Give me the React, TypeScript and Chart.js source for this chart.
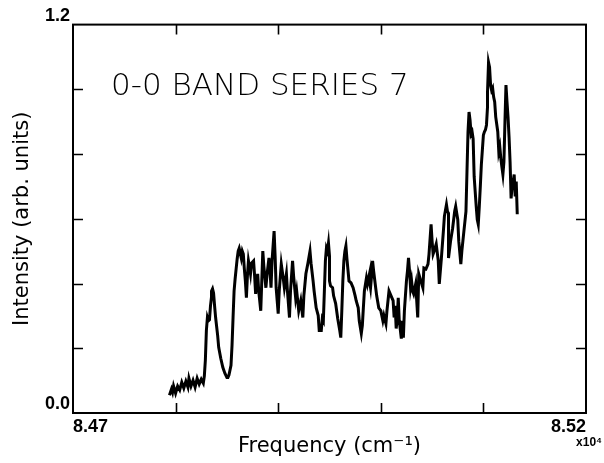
import React, { useEffect, useRef } from "react";
import { Chart, registerables } from "chart.js";

Chart.register(...registerables);

// Frequency in cm^-1 (axis shown in units of 10^4 cm^-1)
const freq = [
  84794, 84796, 84797, 84798, 84800, 84802, 84804, 84806, 84808, 84810,
  84812, 84813, 84815, 84817, 84819, 84821, 84823, 84825, 84827, 84828,
  84829, 84830, 84831, 84832, 84833, 84834, 84835, 84835, 84836, 84837,
  84838, 84839, 84841, 84842, 84844, 84846, 84848, 84850, 84851, 84852,
  84854, 84855, 84856, 84857, 84858, 84859, 84860, 84861, 84862, 84863,
  84864, 84865, 84866, 84867, 84868, 84869, 84870, 84871, 84872, 84873,
  84874, 84876, 84877, 84878, 84879, 84880, 84881, 84883, 84884, 84885,
  84886, 84888, 84889, 84891, 84892, 84893, 84894, 84895, 84896, 84897,
  84898, 84899, 84900, 84901, 84903, 84905, 84906, 84907, 84908, 84909,
  84911, 84912, 84914, 84915, 84917, 84918, 84920, 84922, 84924, 84925,
  84927, 84929, 84931, 84932, 84934, 84935, 84937, 84939, 84940, 84942,
  84943, 84944, 84945, 84946, 84947, 84948, 84949, 84950, 84950, 84951,
  84953, 84954, 84956, 84958, 84960, 84961, 84962, 84963, 84964, 84965,
  84966, 84967, 84969, 84971, 84973, 84975, 84976, 84978, 84979, 84981,
  84982, 84983, 84984, 84986, 84987, 84989, 84989, 84990, 84991, 84992,
  84993, 84995, 84996, 84998, 85000, 85002, 85003, 85005, 85006, 85008,
  85010, 85012, 85013, 85014, 85015, 85016, 85017, 85018, 85020, 85021,
  85022, 85023, 85025, 85026, 85027, 85028, 85029, 85030, 85031, 85032,
  85034, 85035, 85036, 85037, 85039, 85041, 85042, 85044, 85046, 85047,
  85049, 85050, 85051, 85052, 85054, 85056, 85057, 85059, 85061, 85062,
  85064, 85065, 85066, 85066, 85068, 85070, 85072, 85073, 85074, 85075,
  85076, 85078, 85079, 85081, 85082, 85083, 85084, 85085, 85086, 85087,
  85088, 85089, 85090, 85091, 85092, 85093, 85094, 85095, 85096, 85097,
  85098, 85099, 85100, 85101, 85102, 85103, 85104, 85104, 85105, 85106,
  85107, 85108, 85109, 85110, 85111, 85112, 85114, 85115, 85116, 85117,
  85118, 85119, 85120, 85121, 85122, 85123, 85124, 85125, 85126, 85127,
  85128, 85129, 85130, 85131, 85132, 85133,
];

// Intensity (arb. units)
const intensity = [
  0.055, 0.074, 0.064, 0.083, 0.061, 0.083, 0.071, 0.095, 0.077, 0.098,
  0.080, 0.107, 0.083, 0.101, 0.080, 0.107, 0.089, 0.104, 0.092, 0.114,
  0.163, 0.255, 0.295, 0.285, 0.288, 0.331, 0.359, 0.377, 0.384, 0.371,
  0.331, 0.295, 0.239, 0.203, 0.169, 0.141, 0.123, 0.110, 0.110, 0.117,
  0.147, 0.209, 0.295, 0.377, 0.414, 0.445, 0.476, 0.500, 0.509, 0.494,
  0.479, 0.500, 0.491, 0.445, 0.408, 0.356, 0.424, 0.470, 0.451, 0.430,
  0.463, 0.470, 0.424, 0.368, 0.402, 0.430, 0.377, 0.316, 0.408, 0.500,
  0.454, 0.387, 0.424, 0.479, 0.439, 0.387, 0.470, 0.516, 0.562, 0.485,
  0.387, 0.347, 0.307, 0.377, 0.460, 0.414, 0.387, 0.408, 0.430, 0.377,
  0.295, 0.377, 0.470, 0.424, 0.356, 0.377, 0.316, 0.347, 0.295, 0.362,
  0.430, 0.463, 0.500, 0.463, 0.408, 0.377, 0.325, 0.301, 0.255, 0.255,
  0.292, 0.285, 0.377, 0.470, 0.509, 0.500, 0.525, 0.485, 0.408, 0.393,
  0.387, 0.362, 0.338, 0.292, 0.255, 0.233, 0.316, 0.408, 0.470, 0.500,
  0.516, 0.476, 0.408, 0.402, 0.387, 0.362, 0.347, 0.325, 0.285, 0.246,
  0.270, 0.325, 0.377, 0.417, 0.399, 0.430, 0.408, 0.387, 0.424, 0.470,
  0.439, 0.387, 0.362, 0.325, 0.316, 0.285, 0.301, 0.276, 0.316, 0.377,
  0.362, 0.347, 0.295, 0.331, 0.261, 0.292, 0.356, 0.285, 0.230, 0.285,
  0.233, 0.316, 0.408, 0.439, 0.479, 0.439, 0.387, 0.408, 0.377, 0.368,
  0.399, 0.347, 0.295, 0.430, 0.408, 0.387, 0.448, 0.445, 0.460, 0.491,
  0.583, 0.531, 0.491, 0.500, 0.522, 0.470, 0.399, 0.476, 0.562, 0.608,
  0.644, 0.623, 0.617, 0.479, 0.531, 0.571, 0.623, 0.638, 0.617, 0.598,
  0.531, 0.460, 0.500, 0.562, 0.592, 0.623, 0.746, 0.869, 0.930, 0.905,
  0.862, 0.869, 0.847, 0.730, 0.684, 0.638, 0.598, 0.583, 0.638, 0.700,
  0.767, 0.813, 0.859, 0.869, 0.875, 0.890, 0.945, 0.991, 1.083, 1.068,
  1.013, 0.997, 1.004, 0.976, 0.961, 0.915, 0.869, 0.807, 0.822, 0.786,
  0.761, 0.737, 0.776, 0.899, 1.013, 0.961, 0.915, 0.853, 0.776, 0.663,
  0.700, 0.715, 0.737, 0.669, 0.715, 0.614,
];

const X_MIN = 84700;
const X_MAX = 85200;
const X_STEP = 100;
const Y_MIN = 0;
const Y_MAX = 1.2;
const Y_STEP = 0.2;
const xMinorTicks = [84800, 84900, 85000, 85100];
const yMinorTicks = [0.2, 0.4, 0.6, 0.8, 1.0];
const xLabeledTicks = [84700, 85200];
const yLabeledTicks = [0, 1.2];

const PLOT_TITLE = "0-0 BAND SERIES 7";
const X_TITLE = "Frequency (cm\u207B\u00B9)";
const Y_TITLE = "Intensity (arb. units)";
const X_MULT = "x10\u2074";

const framePlugin = {
  id: "frameAndNotes",
  afterDraw(chart: any) {
    const { ctx, chartArea: a, scales } = chart;
    const xs = scales.x;
    const ys = scales.y;
    ctx.save();
    ctx.strokeStyle = "#000";
    ctx.lineWidth = 2;
    ctx.strokeRect(a.left, a.top, a.right - a.left, a.bottom - a.top);
    const tl = 10;
    ctx.lineWidth = 1.6;
    ctx.beginPath();
    for (const v of xMinorTicks) {
      const px = Math.round(xs.getPixelForValue(v)) + 0.5;
      ctx.moveTo(px, a.bottom);
      ctx.lineTo(px, a.bottom - tl);
      ctx.moveTo(px, a.top);
      ctx.lineTo(px, a.top + tl);
    }
    for (const v of yMinorTicks) {
      const py = Math.round(ys.getPixelForValue(v)) + 0.5;
      ctx.moveTo(a.left, py);
      ctx.lineTo(a.left + tl, py);
      ctx.moveTo(a.right, py);
      ctx.lineTo(a.right - tl, py);
    }
    ctx.stroke();

    ctx.fillStyle = "#000";
    ctx.font = '300 31px "DejaVu Sans"';
    ctx.textAlign = "left";
    ctx.textBaseline = "alphabetic";
    ctx.fillText(PLOT_TITLE, a.left + 38, a.top + 70);

    ctx.font = 'bold 12px "Liberation Sans"';
    ctx.textAlign = "right";
    ctx.fillText(X_MULT, 602, a.bottom + 33);
    ctx.restore();
  },
};

export default function App() {
  const ref = useRef<HTMLCanvasElement | null>(null);

  useEffect(() => {
    document.body.style.margin = "0";
    const canvas = ref.current;
    if (!canvas) return;
    const points = freq.map((f, i) => ({ x: f, y: intensity[i] }));
    const chart = new Chart(canvas, {
      type: "line",
      data: {
        datasets: [
          {
            data: points,
            borderColor: "#000",
            borderWidth: 3,
            pointRadius: 0,
            tension: 0,
            fill: false,
          },
        ],
      },
      options: {
        animation: false,
        responsive: true,
        maintainAspectRatio: false,
        layout: { padding: { left: 0, right: 18, top: 23, bottom: 0 } },
        plugins: { legend: { display: false }, tooltip: { enabled: false } },
        scales: {
          x: {
            type: "linear",
            min: X_MIN,
            max: X_MAX,
            afterFit: (s: any) => {
              s.height = 50;
            },
            grid: { display: false, drawTicks: false },
            border: { display: false },
            ticks: {
              stepSize: X_STEP,
              autoSkip: false,
              maxRotation: 0,
              align: "inner",
              padding: 3,
              color: "#000",
              font: { family: '"Liberation Sans"', size: 18, weight: "bold" },
              callback: (v: any) =>
                xLabeledTicks.some((t) => Math.abs(t - v) < 1e-6)
                  ? (Number(v) / 1e4).toFixed(2)
                  : "",
            },
            title: {
              display: true,
              text: X_TITLE,
              color: "#000",
              font: { family: '"DejaVu Sans"', size: 21 },
              padding: { top: 0, bottom: 4 },
            },
          },
          y: {
            type: "linear",
            min: Y_MIN,
            max: Y_MAX,
            afterFit: (s: any) => {
              s.width = 73;
            },
            grid: { display: false, drawTicks: false },
            border: { display: false },
            ticks: {
              stepSize: Y_STEP,
              autoSkip: false,
              align: "end",
              padding: 3,
              color: "#000",
              font: { family: '"Liberation Sans"', size: 18, weight: "bold" },
              callback: (v: any) =>
                yLabeledTicks.some((t) => Math.abs(t - v) < 1e-6)
                  ? Number(v).toFixed(1)
                  : "",
            },
            title: {
              display: true,
              text: Y_TITLE,
              color: "#000",
              font: { family: '"DejaVu Sans"', size: 21 },
              padding: { top: 10, bottom: 0 },
            },
          },
        },
      },
      plugins: [framePlugin],
    });
    return () => chart.destroy();
  }, []);

  return (
    <div style={{ width: 604, height: 463, position: "relative", background: "#fff" }}>
      <canvas ref={ref} />
    </div>
  );
}
